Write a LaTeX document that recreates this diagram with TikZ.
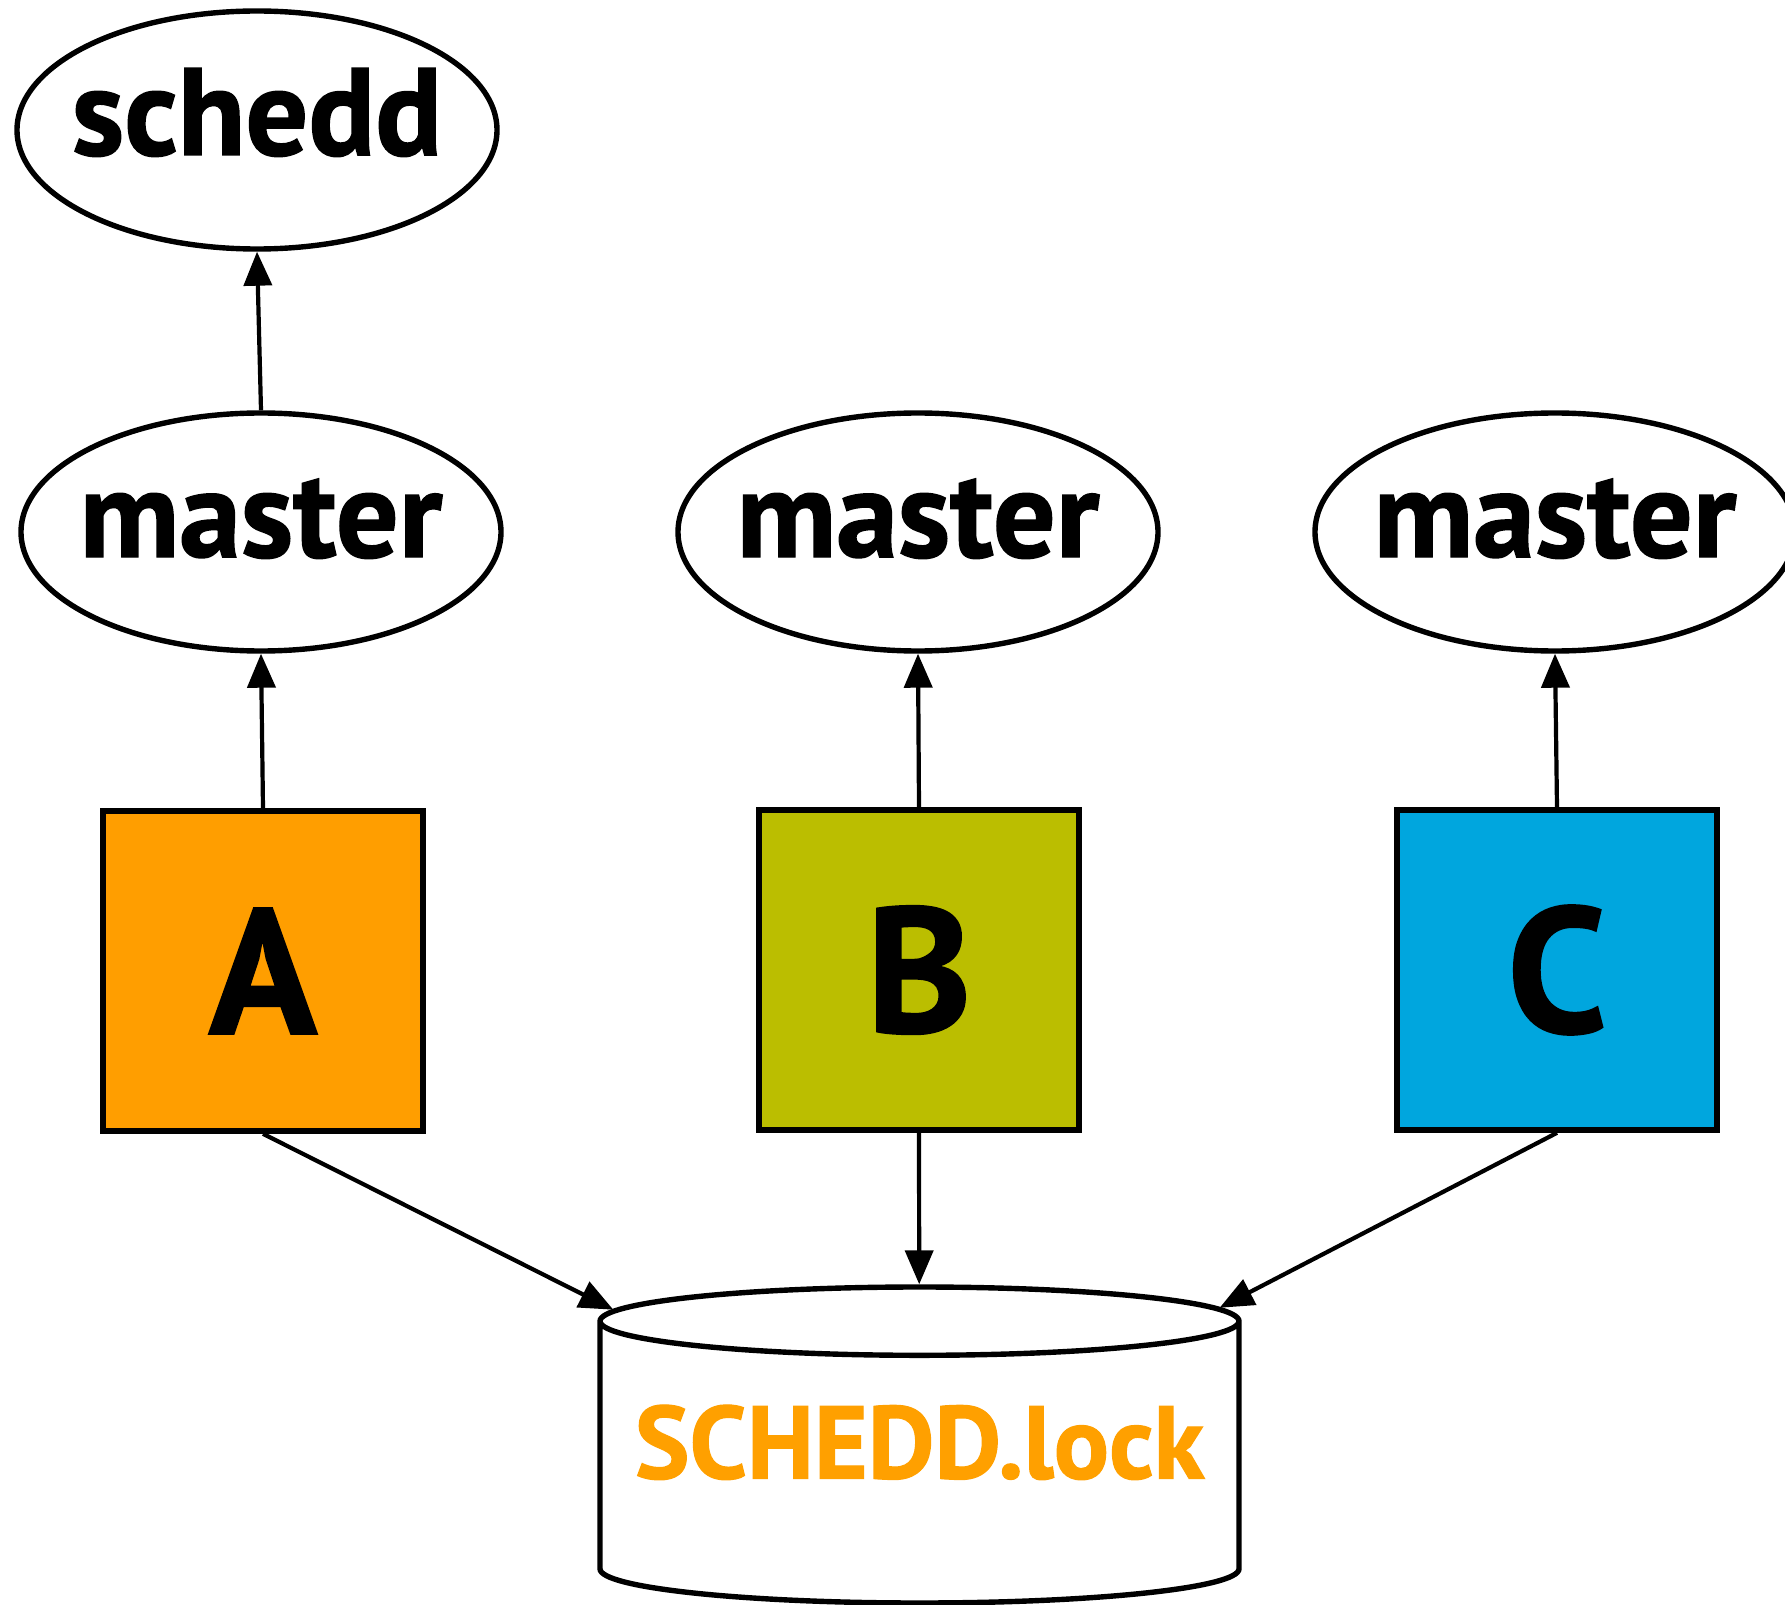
\documentclass[tikz,border=0pt]{standalone}
\usepackage{fontspec}
\setmainfont{PT Sans}[BoldFeatures={FakeBold=1.2}]
\usetikzlibrary{shapes.geometric,arrows.meta}
\definecolor{lockorange}{RGB}{255,160,0}
\definecolor{procA}{RGB}{255,158,0}
\definecolor{procB}{RGB}{187,190,0}
\definecolor{procC}{RGB}{0,166,222}
\newcommand\dname[1]{\makebox[0pt]{#1}}
\begin{document}
\begin{tikzpicture}[x=0.5pt,y=-0.5pt,
	daemon/.style={draw,ellipse,line width=2.7pt,minimum width=240pt,minimum height=119pt,inner sep=0pt,text height=35pt,text depth=10pt,font=\fontsize{62}{64}\selectfont\bfseries},
	proc/.style={draw,line width=2.8pt,minimum width=160pt,minimum height=160pt,inner sep=0pt,font=\fontsize{89}{90}\selectfont\bfseries},
	link/.style={line width=2.1pt,-{Triangle[length=17pt,width=14pt]}}]
		\useasboundingbox(0,0)rectangle(1785,1605);
		\node[daemon](schedd)at(257,130){\dname{schedd}};
		\node[daemon](mA)at(261,532){\dname{master}};
		\node[daemon](mB)at(918,532){\dname{master}};
		\node[daemon](mC)at(1555,532){\dname{master}};
		\node[proc,fill=procA](A)at(263,971){A};
		\node[proc,fill=procB](B)at(919,970){B};
		\node[proc,fill=procC](C)at(1557,970){C};
		\node[draw,cylinder,shape border rotate=90,aspect=0.12,anchor=shape center,fill=white,line width=2.7pt,minimum width=319.5pt,minimum height=158pt,inner sep=0pt,text height=35pt,text depth=20pt,text=lockorange,font=\fontsize{51.5}{53}\selectfont\bfseries](lock)at(919.5,1445){SCHEDD.lock};
		\draw[link](mA.north)--(schedd.south);
		\draw[link](A.north)--(mA.south);
		\draw[link](B.north)--(mB.south);
		\draw[link](C.north)--(mC.south);
		\draw[link](A.south)--(lock);
		\draw[link](B.south)--(lock);
		\draw[link](C.south)--(lock);
	    \end{tikzpicture}
\end{document}
